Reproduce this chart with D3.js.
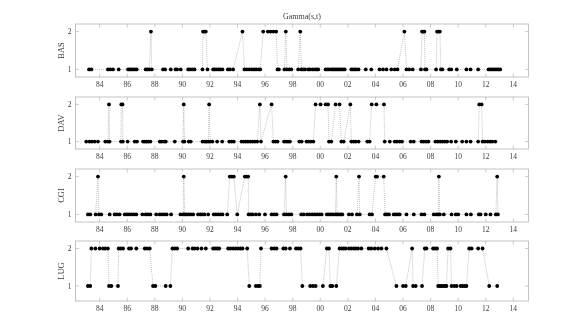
<!DOCTYPE html>
<html>
<head>
<meta charset="utf-8">
<script src="https://cdn.jsdelivr.net/npm/d3@7"></script>
<style>
  body { margin: 0; background: #fff; }
  svg { display: block; will-change: transform; }
</style>
</head>
<body>
<div id="chart"></div>
<script>
// station regime series: [decimal year, state]
const stations = ['BAS', 'DAV', 'CGI', 'LUG']

const bas = [
  [1983.23,1],[1983.4,1],[1984.6,1],[1984.77,1],[1984.97,1],[1985.38,1],
  [1986.06,1],[1986.18,1],[1986.3,1],[1986.42,1],[1986.56,1],[1986.69,1],
  [1987.34,1],[1987.46,1],[1987.6,1],[1987.72,2],[1987.78,1],
  [1988.6,1],[1988.75,1],[1989.16,1],[1989.5,1],[1989.62,1],[1989.88,1],
  [1990.42,1],[1990.54,1],[1990.71,1],[1990.88,1],[1991.46,1],
  [1991.5,2],[1991.6,2],[1991.7,2],[1991.82,1],
  [1992.23,1],[1992.35,1],[1992.47,1],[1992.62,1],[1992.74,1],[1992.9,1],
  [1993.3,1],[1993.45,1],[1993.68,1],[1994.36,2],
  [1994.5,1],[1994.67,1],[1994.86,1],[1995.03,1],[1995.2,1],[1995.35,1],[1995.52,1],[1995.65,1],
  [1995.86,2],[1996.2,2],[1996.4,2],[1996.6,2],[1996.8,2],
  [1996.9,1],[1997.0,1],[1997.4,1],[1997.5,2],[1997.58,1],[1997.75,1],[1997.9,1],
  [1998.4,1],[1998.55,2],[1998.63,1],[1998.75,1],[1998.9,1],[1999.13,1],[1999.25,1],
  [1999.45,1],[1999.62,1],[1999.75,1],[1999.85,1],
  [2000.39,1],[2000.51,1],[2000.63,1],[2000.8,1],[2000.92,1],[2001.04,1],[2001.16,1],
  [2001.28,1],[2001.4,1],[2001.52,1],[2001.65,1],[2001.77,1],[2002.25,1],[2002.37,1],
  [2002.5,1],[2002.62,1],[2002.78,1],[2003.3,1],[2003.7,1],
  [2004.3,1],[2004.55,1],[2004.8,1],[2005.15,1],[2005.4,1],[2005.6,1],
  [2006.1,2],[2006.25,1],[2006.45,1],[2006.7,1],
  [2007.3,1],[2007.38,2],[2007.46,2],[2007.55,2],[2007.6,1],[2007.7,1],
  [2008.4,1],[2008.47,2],[2008.57,2],[2008.67,2],[2008.75,1],[2008.85,1],
  [2009.35,1],[2009.5,1],[2009.9,1],[2010.6,1],[2010.9,1],[2011.45,1],
  [2012.2,1],[2012.33,1],[2012.45,1],[2012.57,1],[2012.7,1],[2012.82,1],[2012.93,1],[2013.05,1]
]

const dav = [
  [1983.03,1],[1983.27,1],[1983.44,1],[1983.64,1],[1983.88,1],[1984.41,1],[1984.6,1],
  [1984.68,2],[1984.72,1],[1985.55,1],[1985.57,2],[1985.66,2],[1985.68,1],[1986.03,1],
  [1986.54,1],[1986.71,1],[1987.15,1],[1987.28,1],[1987.4,1],[1987.53,1],[1987.68,1],
  [1988.36,1],[1988.5,1],[1988.67,1],[1988.8,1],[1989.45,1],
  [1990.05,1],[1990.1,2],[1990.15,1],[1990.46,1],[1990.61,1],
  [1991.46,1],[1991.63,1],[1991.75,1],[1991.88,1],[1991.94,2],[1992.02,1],[1992.18,1],
  [1992.52,1],[1992.89,1],[1993.4,1],[1993.57,1],[1993.73,1],
  [1994.29,1],[1994.45,1],[1994.6,1],[1994.75,1],[1994.92,1],[1995.09,1],[1995.26,1],[1995.43,1],
  [1995.62,2],[1995.7,1],[1996.47,2],[1996.6,1],[1996.76,1],[1996.9,1],
  [1997.37,1],[1997.52,1],[1997.66,1],[1997.8,1],[1998.48,1],[1998.65,1],
  [1999.0,1],[1999.15,1],[1999.32,1],[1999.5,1],[1999.66,2],
  [2000.02,2],[2000.39,2],[2000.56,2],[2000.63,1],[2000.8,1],
  [2001.11,2],[2001.4,2],[2001.53,1],[2001.7,1],[2002.18,2],
  [2002.25,1],[2002.42,1],[2002.57,1],[2002.78,1],[2003.41,1],[2003.58,1],
  [2003.73,2],[2004.07,2],[2004.62,2],[2004.67,1],
  [2005.04,1],[2005.4,1],[2005.57,1],[2005.76,1],[2005.93,1],[2006.56,1],[2006.78,1],
  [2007.34,1],[2007.5,1],[2007.67,1],[2007.84,1],
  [2008.35,1],[2008.52,1],[2008.69,1],[2008.86,1],[2009.03,1],[2009.2,1],
  [2009.49,1],[2009.83,1],[2010.29,1],[2010.6,1],[2010.9,1],[2011.45,1],
  [2011.53,2],[2011.7,2],[2011.77,1],[2011.94,1],[2012.14,1],[2012.31,1],[2012.48,1],[2012.7,1]
]

const cgi = [
  [1983.15,1],[1983.32,1],[1983.71,1],[1983.88,2],[1983.95,1],[1984.12,1],[1984.73,1],
  [1985.09,1],[1985.26,1],[1985.45,1],[1985.82,1],[1985.99,1],[1986.14,1],[1986.31,1],
  [1986.48,1],[1986.66,1],[1987.1,1],[1987.34,1],[1987.49,1],[1987.68,1],
  [1988.1,1],[1988.35,1],[1988.52,1],[1988.69,1],[1988.86,1],[1989.18,1],[1989.86,1],
  [1990.06,1],[1990.1,2],[1990.17,1],[1990.3,1],[1990.46,1],[1990.61,1],[1990.78,1],
  [1991.14,1],[1991.31,1],[1991.45,1],[1991.6,1],[1991.87,1],
  [1992.28,1],[1992.43,1],[1992.6,1],[1992.77,1],[1992.91,1],[1993.25,1],
  [1993.44,2],[1993.59,2],[1993.73,2],[1993.98,1],[1994.53,2],[1994.65,2],[1994.77,2],
  [1994.8,1],[1994.94,1],[1995.09,1],[1995.33,1],[1995.57,1],[1995.99,1],
  [1996.47,1],[1996.64,1],[1996.83,1],[1997.37,1],[1997.49,2],[1997.55,1],[1997.72,1],[1997.9,1],
  [1998.62,1],[1998.8,1],[1999.04,1],[1999.23,1],[1999.42,1],[1999.6,1],[1999.77,1],[1999.95,1],[2000.1,1],
  [2000.48,1],[2000.63,1],[2000.77,1],[2000.92,1],[2001.1,1],[2001.16,2],[2001.22,1],
  [2001.36,1],[2001.5,1],[2001.6,1],[2002.08,1],[2002.3,1],[2002.66,1],[2002.81,2],[2002.86,1],
  [2003.58,1],[2003.75,1],[2004.02,2],[2004.12,2],[2004.6,2],[2004.7,1],[2004.84,1],[2004.99,1],
  [2005.33,1],[2005.48,1],[2005.63,1],[2005.76,1],[2006.25,1],[2006.78,1],
  [2007.34,1],[2007.55,1],[2008.23,1],[2008.43,1],[2008.55,1],[2008.6,2],[2008.67,1],[2008.96,1],
  [2009.52,1],[2009.83,1],[2010.0,1],[2010.6,1],[2010.92,1],
  [2011.5,1],[2011.62,1],[2012.0,1],[2012.34,1],[2012.73,1],[2012.83,2],[2012.88,1]
]

const lug = [
  [1983.15,1],[1983.32,1],[1983.4,2],[1983.69,2],[1984.0,2],[1984.24,2],[1984.41,2],[1984.6,2],
  [1984.68,1],[1984.85,1],[1985.33,1],[1985.38,2],[1985.53,2],[1985.7,2],
  [1986.13,2],[1986.28,2],[1986.66,2],[1987.27,2],[1987.44,2],[1987.63,2],
  [1987.87,1],[1988.04,1],[1988.79,1],[1989.13,1],[1989.28,2],[1989.45,2],[1989.62,2],
  [1990.42,2],[1990.74,2],[1990.88,2],[1991.1,2],[1991.39,2],[1991.7,2],
  [1992.23,2],[1992.38,2],[1992.52,2],[1992.67,2],
  [1993.32,2],[1993.49,2],[1993.68,2],[1993.85,2],[1994.04,2],[1994.21,2],[1994.36,2],[1994.7,2],
  [1994.85,1],[1995.33,1],[1995.5,1],[1995.62,1],[1995.7,2],
  [1996.47,2],[1996.66,2],[1996.83,2],[1997.32,2],[1997.49,2],[1997.8,2],
  [1998.24,2],[1998.4,2],[1998.57,2],[1998.7,1],[1999.27,1],[1999.47,1],[1999.66,1],
  [2000.19,1],[2000.48,2],[2000.63,2],[2000.73,1],[2000.87,1],[2001.16,1],
  [2001.4,2],[2001.55,2],[2001.7,2],[2001.84,2],[2002.08,2],[2002.25,2],[2002.42,2],
  [2002.57,2],[2002.74,2],[2002.98,2],[2003.51,2],[2003.7,2],[2003.95,2],[2004.19,2],[2004.43,2],[2004.8,2],
  [2005.52,1],[2006.0,1],[2006.2,1],[2006.66,2],[2006.73,1],[2006.92,1],[2007.38,1],
  [2007.58,2],[2007.7,2],[2008.18,2],[2008.33,2],[2008.47,2],
  [2008.55,1],[2008.67,1],[2008.79,1],[2008.91,1],[2009.03,1],[2009.15,1],[2009.27,2],[2009.44,2],
  [2009.52,1],[2009.72,1],[2009.89,1],[2010.18,1],[2010.33,1],[2010.47,1],[2010.6,1],
  [2010.8,2],[2010.97,2],[2011.45,2],[2011.77,2],[2012.25,1],[2012.83,1]
]

const series = [bas, dav, cgi, lug]
const yDomains = [[0.8, 2.2], [0.8, 2.2], [0.8, 2.2], [0.6, 2.2]]
const yTicks = [1, 2]
const xTicks = d3.range(1984, 2015, 2)
const xDomain = [1982.25, 2015.1]
const title = 'Gamma(s,t)'

const width = 584, height = 330
const left = 75.5, right = 528.5
const panelBox = [[24, 77], [97, 149], [169, 222], [241, 301]]
const font = '"Liberation Serif", "DejaVu Serif", serif'
const frameColor = '#b5b5b5'
const textColor = '#3a3a3a'

const svg = d3.select('#chart').append('svg')
  .attr('width', width)
  .attr('height', height)

const x = d3.scaleLinear().domain(xDomain).range([left, right])

svg.append('text')
  .attr('x', (left + right) / 2)
  .attr('y', 19)
  .attr('text-anchor', 'middle')
  .attr('font-family', font)
  .attr('font-size', 8)
  .attr('fill', textColor)
  .text(title)

series.forEach((data, i) => {
  const [top, bottom] = panelBox[i]
  const y = d3.scaleLinear().domain(yDomains[i]).range([bottom, top])
  const g = svg.append('g')

  // frame
  g.append('rect')
    .attr('x', left).attr('y', top)
    .attr('width', right - left).attr('height', bottom - top)
    .attr('fill', 'none')
    .attr('stroke', frameColor)
    .attr('stroke-width', 0.8)

  // ticks, inward on all four sides
  const tl = 3.5
  g.append('g').selectAll('line.xb')
    .data(xTicks).enter().append('line')
      .attr('x1', d => x(d)).attr('x2', d => x(d))
      .attr('y1', bottom).attr('y2', bottom - tl)
      .attr('stroke', frameColor).attr('stroke-width', 0.7)
  g.append('g').selectAll('line.xt')
    .data(xTicks).enter().append('line')
      .attr('x1', d => x(d)).attr('x2', d => x(d))
      .attr('y1', top).attr('y2', top + tl)
      .attr('stroke', frameColor).attr('stroke-width', 0.7)
  g.append('g').selectAll('line.yl')
    .data(yTicks).enter().append('line')
      .attr('x1', left).attr('x2', left + tl)
      .attr('y1', d => y(d)).attr('y2', d => y(d))
      .attr('stroke', frameColor).attr('stroke-width', 0.7)
  g.append('g').selectAll('line.yr')
    .data(yTicks).enter().append('line')
      .attr('x1', right).attr('x2', right - tl)
      .attr('y1', d => y(d)).attr('y2', d => y(d))
      .attr('stroke', frameColor).attr('stroke-width', 0.7)

  // tick labels
  g.append('g').selectAll('text')
    .data(xTicks).enter().append('text')
      .attr('x', d => x(d))
      .attr('y', bottom + 10)
      .attr('text-anchor', 'middle')
      .attr('font-family', font)
      .attr('font-size', 7.5)
      .attr('fill', textColor)
      .text(d => String(d % 100).padStart(2, '0'))
  g.append('g').selectAll('text')
    .data(yTicks).enter().append('text')
      .attr('x', left - 4)
      .attr('y', d => y(d))
      .attr('dy', '0.35em')
      .attr('text-anchor', 'end')
      .attr('font-family', font)
      .attr('font-size', 7.5)
      .attr('fill', textColor)
      .text(d => d)

  // station label
  g.append('text')
    .attr('transform', `translate(${left - 12},${(top + bottom) / 2}) rotate(-90)`)
    .attr('text-anchor', 'middle')
    .attr('font-family', font)
    .attr('font-size', 8.5)
    .attr('fill', textColor)
    .text(stations[i])

  // dotted connecting line
  g.append('path')
    .datum(data)
    .attr('d', d3.line().x(d => x(d[0])).y(d => y(d[1])))
    .attr('fill', 'none')
    .attr('stroke', '#999')
    .attr('stroke-width', 0.6)
    .attr('stroke-dasharray', '1,1')

  g.append('g').selectAll('circle')
    .data(data).enter().append('circle')
      .attr('cx', d => x(d[0]))
      .attr('cy', d => y(d[1]))
      .attr('r', 1.9)
      .attr('fill', '#000')
})
</script>
</body>
</html>
